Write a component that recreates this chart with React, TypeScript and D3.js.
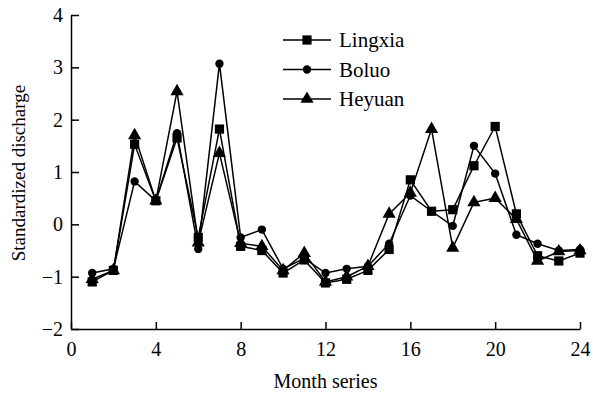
import { useEffect, useRef } from 'react';
import * as d3 from 'd3';

const width = 593;
const height = 393;
const [mt, mr, mb, ml] = [15, 13, 64, 71];

const months = d3.range(1, 25);
const lingxia = [-1.1, -0.88, 1.53, 0.45, 1.65, -0.25, 1.82, -0.42, -0.5, -0.93, -0.68, -1.12, -1.05, -0.88, -0.48, 0.85, 0.25, 0.28, 1.12, 1.87, 0.2, -0.6, -0.7, -0.55];
const boluo = [-0.93, -0.85, 0.82, 0.45, 1.74, -0.47, 3.07, -0.25, -0.1, -0.85, -0.65, -0.93, -0.85, -0.8, -0.37, 0.55, 0.25, -0.03, 1.5, 0.97, -0.2, -0.37, -0.5, -0.48];
const heyuan = [-1.05, -0.88, 1.7, 0.45, 2.54, -0.35, 1.36, -0.36, -0.42, -0.88, -0.55, -1.1, -1.0, -0.8, 0.2, 0.6, 1.82, -0.45, 0.42, 0.5, 0.1, -0.7, -0.52, -0.5];
const xTicks = [0, 4, 8, 12, 16, 20, 24];
const yTicks = [-2, -1, 0, 1, 2, 3, 4];

const series = [
    { name: 'Lingxia', values: lingxia, symbol: d3.symbolSquare, size: 85 },
    { name: 'Boluo', values: boluo, symbol: d3.symbolCircle, size: 55 },
    { name: 'Heyuan', values: heyuan, symbol: d3.symbolTriangle, size: 75 },
];

export default function App() {
    const ref = useRef<SVGSVGElement>(null);

    useEffect(() => {
        const svg = d3.select(ref.current);
        svg.selectAll('*').remove();
        const font = '"Liberation Serif", "Times New Roman", serif';

        const x = d3.scaleLinear().domain([0, 24]).range([ml, width - mr]);
        const y = d3.scaleLinear().domain([-2, 4]).range([height - mb, mt]);

        // axes: ticks point inward
        const xAxis = d3.axisBottom(x).tickValues(xTicks).tickSize(-7).tickPadding(13).tickSizeOuter(0);
        const yAxis = d3.axisLeft(y).tickValues(yTicks).tickSize(-8).tickPadding(8).tickSizeOuter(0)
            .tickFormat((d) => (+d < 0 ? '\u2212' + Math.abs(+d) : String(d)));

        const styleAxis = (g: any) => {
            g.attr('font-family', null).attr('font-size', null);
            g.selectAll('text').style('font-family', font).style('font-size', '20px').attr('fill', '#000');
            g.selectAll('line, path').attr('stroke', '#000').attr('stroke-width', 1.5);
        };

        svg.append('g')
            .attr('transform', `translate(0,${y(-2)})`)
            .call(xAxis)
            .call(styleAxis);

        svg.append('g')
            .attr('transform', `translate(${x(0)},0)`)
            .call(yAxis)
            .call(styleAxis);

        svg.append('text')
            .attr('x', (x(0) + x(24)) / 2)
            .attr('y', 388)
            .attr('text-anchor', 'middle')
            .style('font-family', font)
            .style('font-size', '20px')
            .text('Month series');

        svg.append('text')
            .attr('transform', `translate(25,${y(0.98)}) rotate(-90)`)
            .attr('text-anchor', 'middle')
            .style('font-family', font)
            .style('font-size', '19px')
            .text('Standardized discharge');

        const line = d3.line<number>().x((_, i) => x(months[i])).y((d) => y(d));

        [...series].reverse().forEach((s) => {
            const g = svg.append('g');
            g.append('path')
                .attr('d', line(s.values))
                .attr('fill', 'none')
                .attr('stroke', '#000')
                .attr('stroke-width', 1.5);
            g.selectAll('path.mk')
                .data(s.values)
                .join('path')
                .attr('class', 'mk')
                .attr('transform', (d, i) => `translate(${x(months[i])},${y(d)})`)
                .attr('d', d3.symbol(s.symbol, s.size)())
                .attr('fill', '#000');
        });

        // legend
        const lg = svg.append('g');
        series.forEach((s, i) => {
            const ly = 40 + i * 29.5;
            lg.append('line').attr('x1', 283).attr('x2', 331).attr('y1', ly).attr('y2', ly)
                .attr('stroke', '#000').attr('stroke-width', 1.5);
            lg.append('path').attr('transform', `translate(307,${ly})`)
                .attr('d', d3.symbol(s.symbol, s.size)()).attr('fill', '#000');
            lg.append('text').attr('x', 339).attr('y', ly + 7)
                .style('font-family', font).style('font-size', '21px').text(s.name);
        });
    }, []);

    return (
        <svg ref={ref} width={width} height={height}
            style={{ position: 'absolute', left: 0, top: 0, background: '#fff' }} />
    );
}
